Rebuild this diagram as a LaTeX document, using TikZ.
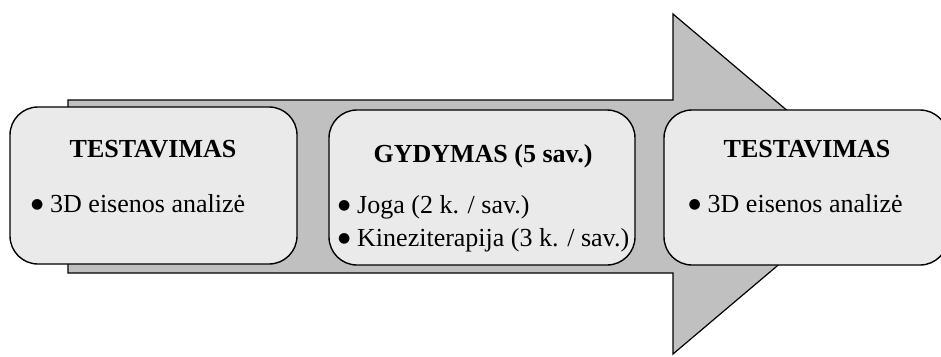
\documentclass[tikz,border=0pt]{standalone}
\usepackage{fontspec}
\setmainfont{Liberation Serif}
\newfontfamily\symfont{DejaVu Sans}
\definecolor{shaftgray}{HTML}{C0C0C0}
\definecolor{boxgray}{HTML}{EAEAEA}
% list bullet in a fixed-width slot, so the item text starts at a set offset
\newcommand{\bigbullet}{\makebox[19pt][l]{\raisebox{4pt}{\symfont\fontsize{14}{14}\selectfont ●}}}
\begin{document}
\begin{tikzpicture}[x=1pt,y=-1pt,
  arrowbody/.style={draw=black, line width=1.2pt, fill=shaftgray, line join=miter},
  stage/.style={draw=black, line width=1.4pt, fill=boxgray, rounded corners=28pt,
    inner sep=0pt, outer sep=0pt, anchor=north west},
  title/.style={font=\fontsize{26}{30}\selectfont\bfseries, anchor=base, inner sep=0pt},
  item/.style={font=\fontsize{26}{33}\selectfont, anchor=base west, inner sep=0pt,
    align=left}]
  \useasboundingbox (0,0) rectangle (941,356);

  % big process arrow behind the stages
  \draw[arrowbody] (68,100) -- (673,100) -- (673,14) -- (874,184)
    -- (673,354) -- (673,273) -- (68,273) -- cycle;

  % stage boxes
  \node[stage, minimum width=287pt, minimum height=157pt] (s1) at (10,107) {};
  \node[stage, minimum width=306pt, minimum height=155pt] (s2) at (329,110) {};
  \node[stage, minimum width=284pt, minimum height=155pt] (s3) at (664,110) {};

  % stage 1
  \node[title] (s1title) at (153,157) {TESTAVIMAS};
  \node[item] (s1item) at (31,212) {\bigbullet 3D eisenos analizė};

  % stage 2 (base anchor sits on the last line)
  \node[title] (s2title) at (483,162) {GYDYMAS (5 sav.)};
  \node[item] (s2items) at (338,246)
    {\bigbullet Joga (2 k. / sav.)\\\bigbullet Kineziterapija (3 k. / sav.)};

  % stage 3
  \node[title] (s3title) at (807,157) {TESTAVIMAS};
  \node[item] (s3item) at (688.5,212) {\bigbullet 3D eisenos analizė};
\end{tikzpicture}
\end{document}
